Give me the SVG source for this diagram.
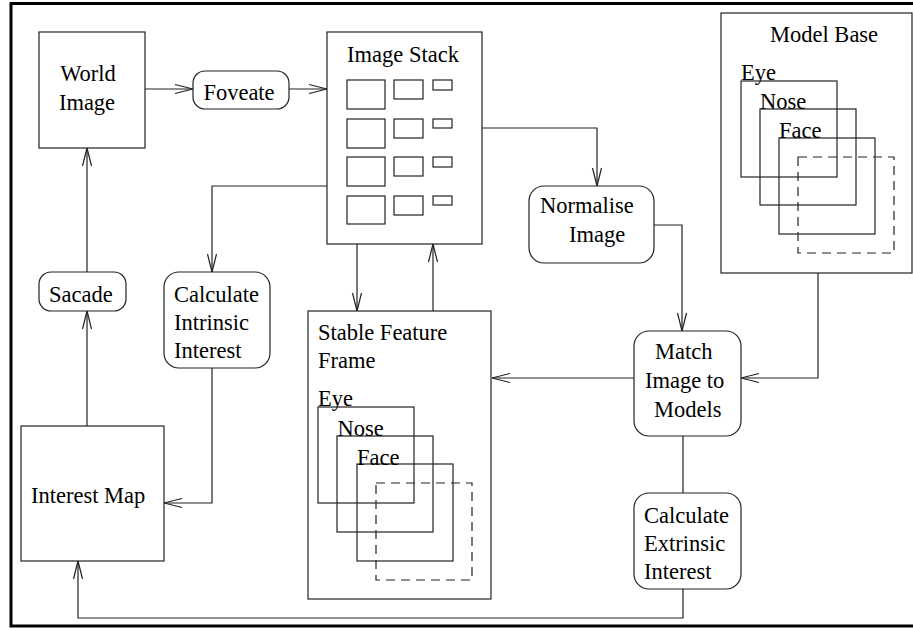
<svg xmlns="http://www.w3.org/2000/svg" width="913" height="628" viewBox="0 0 913 628">
  <style>
    .box { fill: #fff; stroke: #222; stroke-width: 1.2; }
    .sub { fill: none; stroke: #222; stroke-width: 1.2; }
    .dash { fill: none; stroke: #222; stroke-width: 1.2; stroke-dasharray: 9 6; }
    .lbl { font-family: "Liberation Serif", "Times New Roman", serif; font-size: 22.5px; fill: #000; }
    .mid { text-anchor: middle; }
    .wire { fill: none; stroke: #222; stroke-width: 1.2; }
    .arrow { marker-end: url(#open); }
  </style>
  <defs>
    <marker id="open" viewBox="-20 -6 22 12" refX="0" refY="0" markerWidth="22" markerHeight="12" markerUnits="userSpaceOnUse" orient="auto">
      <path d="M-18,-4.5 L0,0 L-18,4.5" fill="none" stroke="#222" stroke-width="1.2"/>
    </marker>
  </defs>

  <rect x="0" y="0" width="913" height="628" fill="#fff"/>
  <!-- outer frame -->
  <rect x="11" y="3.5" width="920" height="622.5" fill="none" stroke="#000" stroke-width="3"/>

  <!-- connectors -->
  <g id="connectors">
    <path class="wire arrow" d="M145,89 H193"/>
    <path class="wire arrow" d="M289,89 H327"/>
    <path class="wire arrow" d="M482,128 H597 V186"/>
    <path class="wire arrow" d="M327,186 H212 V272"/>
    <path class="wire arrow" d="M357,244 V311"/>
    <path class="wire arrow" d="M433,311 V244"/>
    <path class="wire arrow" d="M654,225 H682 V331"/>
    <path class="wire arrow" d="M818,273 V378 H741"/>
    <path class="wire arrow" d="M634,378 H492"/>
    <path class="wire" d="M683,436 V493"/>
    <path class="wire arrow" d="M683,589 V618 H78 V561"/>
    <path class="wire arrow" d="M212,368 V503 H164"/>
    <path class="wire arrow" d="M87,426 V311"/>
    <path class="wire arrow" d="M87,272 V148"/>
  </g>

  <g id="world-image">
    <rect class="box" x="39" y="32" width="106" height="116"/>
    <text class="lbl mid" x="88" y="81">World</text>
    <text class="lbl mid" x="87" y="110">Image</text>
  </g>

  <g id="foveate">
    <rect class="box" x="193" y="71" width="96" height="38" rx="12"/>
    <text class="lbl mid" x="239" y="100">Foveate</text>
  </g>

  <g id="image-stack">
    <rect class="box" x="327" y="32" width="155" height="212"/>
    <text class="lbl mid" x="403" y="62">Image Stack</text>
    <rect class="sub" x="347" y="80" width="38" height="29"/>
    <rect class="sub" x="347" y="119" width="38" height="29"/>
    <rect class="sub" x="347" y="157" width="38" height="29"/>
    <rect class="sub" x="347" y="196" width="38" height="28"/>
    <rect class="sub" x="394" y="80" width="29" height="19"/>
    <rect class="sub" x="394" y="119" width="29" height="19"/>
    <rect class="sub" x="394" y="157" width="29" height="19"/>
    <rect class="sub" x="394" y="196" width="29" height="19"/>
    <rect class="sub" x="433" y="80" width="19" height="10"/>
    <rect class="sub" x="433" y="119" width="19" height="9"/>
    <rect class="sub" x="433" y="157" width="19" height="10"/>
    <rect class="sub" x="433" y="196" width="19" height="9"/>
  </g>

  <g id="normalise-image">
    <rect class="box" x="529" y="186" width="125" height="77" rx="15"/>
    <text class="lbl" x="540" y="213">Normalise</text>
    <text class="lbl" x="569" y="242">Image</text>
  </g>

  <g id="model-base">
    <rect class="box" x="721" y="13" width="191" height="260"/>
    <text class="lbl" x="770" y="42">Model Base</text>
    <rect class="sub" x="741" y="81" width="96" height="96"/>
    <rect class="sub" x="760" y="109" width="96" height="96"/>
    <rect class="sub" x="779" y="138" width="96" height="96"/>
    <rect class="dash" x="798" y="157" width="96" height="96"/>
    <text class="lbl" x="741" y="80">Eye</text>
    <text class="lbl" x="760" y="109">Nose</text>
    <text class="lbl" x="779" y="137.5">Face</text>
  </g>

  <g id="match-image">
    <rect class="box" x="634" y="331" width="107" height="105" rx="15"/>
    <text class="lbl" x="655" y="359">Match</text>
    <text class="lbl" x="645" y="388">Image to</text>
    <text class="lbl" x="654" y="417">Models</text>
  </g>

  <g id="calc-extrinsic">
    <rect class="box" x="634" y="493" width="107" height="96" rx="15"/>
    <text class="lbl" x="644" y="523">Calculate</text>
    <text class="lbl" x="644" y="551">Extrinsic</text>
    <text class="lbl" x="644" y="579">Interest</text>
  </g>

  <g id="stable-feature-frame">
    <rect class="box" x="308" y="311" width="183" height="288"/>
    <text class="lbl" x="318" y="340">Stable Feature</text>
    <text class="lbl" x="318" y="368">Frame</text>
    <rect class="sub" x="318" y="407" width="96" height="96"/>
    <rect class="sub" x="337" y="436" width="96" height="96"/>
    <rect class="sub" x="357" y="464" width="96" height="97"/>
    <rect class="dash" x="376" y="483" width="96" height="97"/>
    <text class="lbl" x="318" y="406">Eye</text>
    <text class="lbl" x="337.5" y="436">Nose</text>
    <text class="lbl" x="357" y="464.5">Face</text>
  </g>

  <g id="interest-map">
    <rect class="box" x="21" y="426" width="143" height="135"/>
    <text class="lbl" x="31" y="503">Interest Map</text>
  </g>

  <g id="sacade">
    <rect class="box" x="39" y="272" width="87" height="39" rx="12"/>
    <text class="lbl" x="49" y="302">Sacade</text>
  </g>

  <g id="calc-intrinsic">
    <rect class="box" x="164" y="272" width="106" height="96" rx="15"/>
    <text class="lbl" x="174" y="302">Calculate</text>
    <text class="lbl" x="174" y="330">Intrinsic</text>
    <text class="lbl" x="174" y="358">Interest</text>
  </g>
</svg>
